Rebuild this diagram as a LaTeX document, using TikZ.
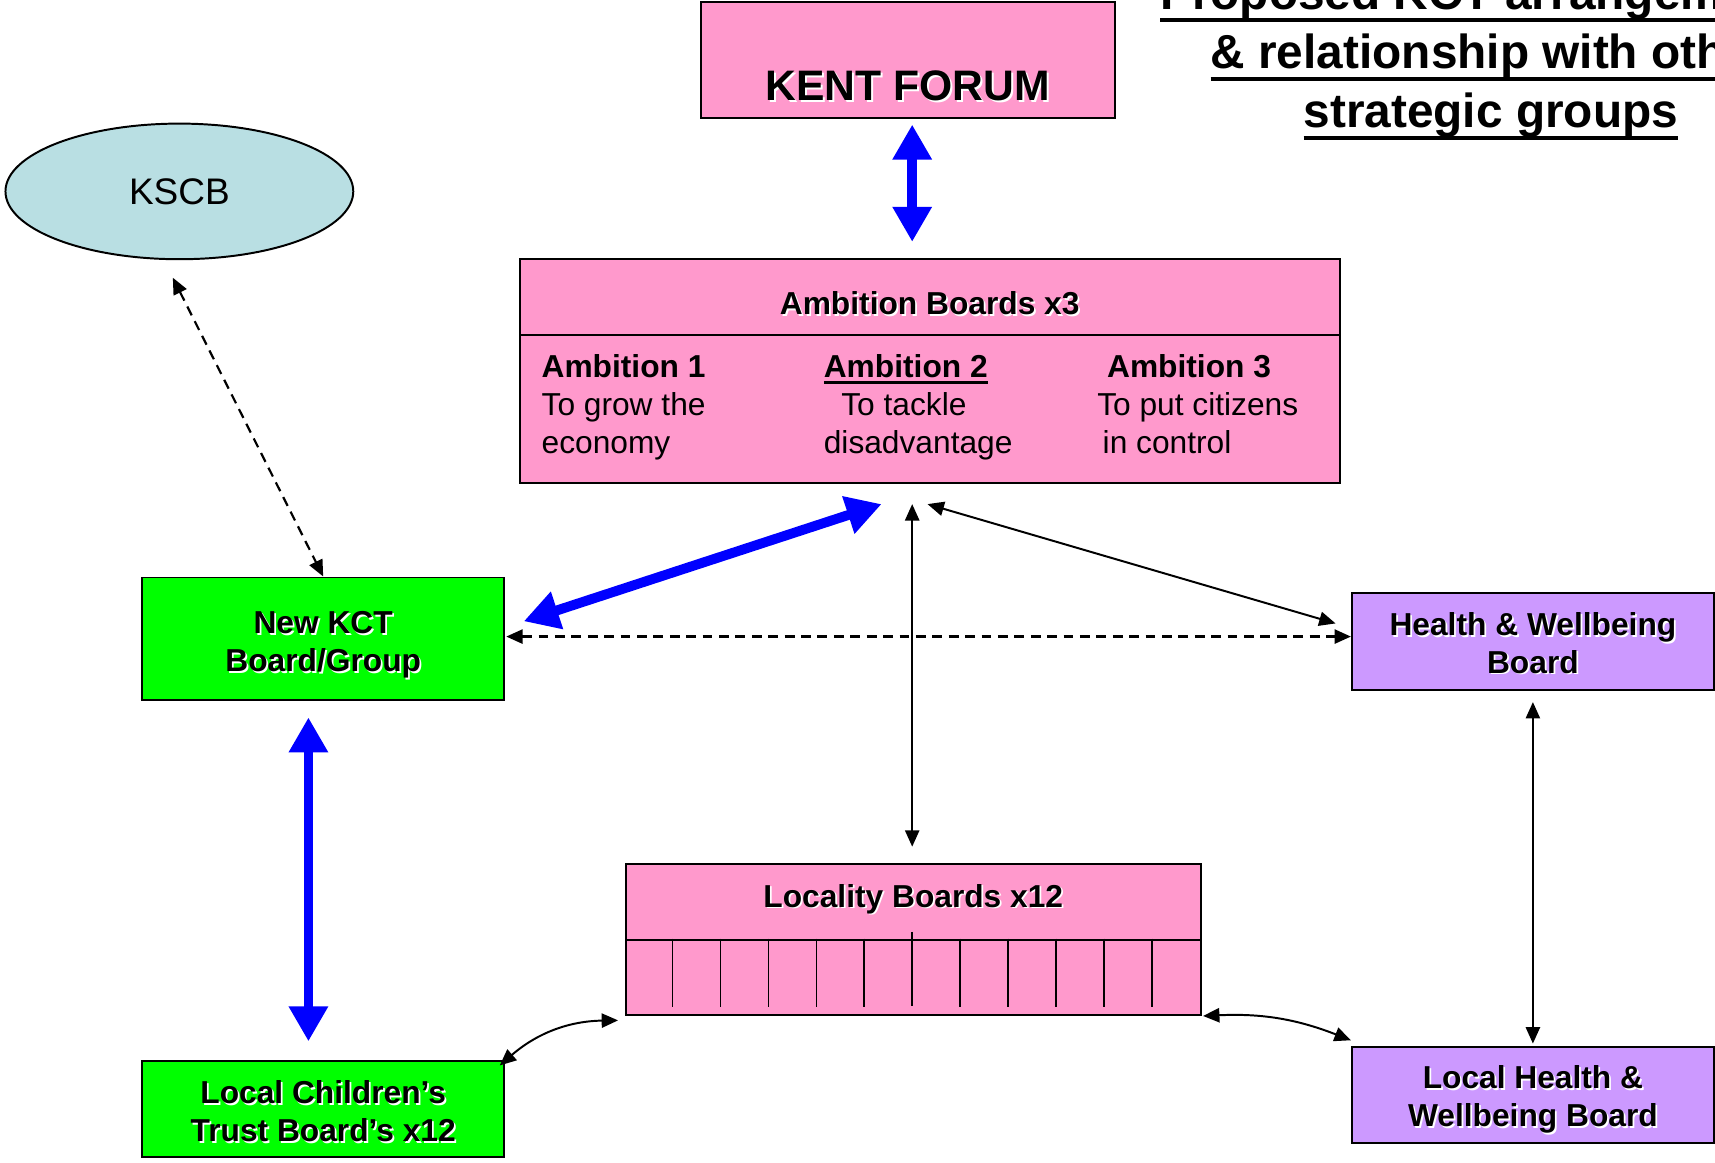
\documentclass[tikz,border=0pt]{standalone}
\usepackage{fontspec}
\setmainfont{Liberation Sans}
\usetikzlibrary{arrows.meta,shapes.geometric,calc}
\definecolor{kpink}{HTML}{FF99CC}
\definecolor{kgreen}{HTML}{00FF00}
\definecolor{kpurple}{HTML}{CC99FF}
\definecolor{kscbblue}{HTML}{B9DFE3}
\definecolor{arrblue}{HTML}{0000FF}
\newcommand\shd[1]{\makebox[0pt][l]{\kern1.6pt\raisebox{-1.6pt}{\color{white}#1}}#1}
\newcommand\dn[1]{\rule{0pt}{#1}}
\newsavebox\ulbox
\newcommand\myul[3]{\sbox\ulbox{#3}\makebox[0pt][l]{\raisebox{-#1}{\rule{\wd\ulbox}{#2}}}\usebox\ulbox}
\tikzset{
  box/.style={draw=black, line width=1.8pt, rectangle, inner sep=0pt, align=center,
    font=\fontsize{29}{34.5}\selectfont\bfseries},
  pinkbox/.style={box, fill=kpink},
  greenbox/.style={box, fill=kgreen},
  purplebox/.style={box, fill=kpurple},
  bigarrow/.style={draw=arrblue, line width=9pt,
    arrows={Triangle[width=34pt,length=32pt]-Triangle[width=34pt,length=32pt]}},
  thinarrow/.style={draw=black, line width=1.8pt,
    arrows={Triangle[width=13pt,length=15pt]-Triangle[width=13pt,length=15pt]}},
  dasharrow/.style={thinarrow, line width=2pt, dash pattern=on 9pt off 6pt},
  coltext/.style={anchor=base west, inner sep=0pt, font=\fontsize{29}{34.5}\selectfont},
  cellline/.style={draw=black, line width=1.6pt}
}
\begin{document}
\begin{tikzpicture}[x=1pt,y=-1pt]
\useasboundingbox (0,0) rectangle (1568,1063.3);
\clip (0,0) rectangle (1568,1063.3);

% title
\node[anchor=base, inner sep=0pt, font=\fontsize{43.7}{54}\selectfont\bfseries] (title) at (1363,9)
  {\begin{tabular}[t]{@{}c@{}}\myul{11pt}{3.5pt}{Proposed KCT arrangements}\\
   \myul{11pt}{3.5pt}{\& relationship with other}\\
   \myul{11pt}{3.5pt}{strategic groups}\end{tabular}};

% nodes
\node[pinkbox, minimum width=378pt, minimum height=106pt, text height=74pt, text depth=0pt,
  font=\fontsize{39}{46}\selectfont\bfseries] (forum) at (830,55) {\shd{KENT FORUM}};

\node[draw=black, line width=1.8pt, fill=kscbblue, ellipse, minimum width=318pt, minimum height=124pt,
  inner sep=0pt, font=\fontsize{33.8}{40}\selectfont] (kscb) at (164,175) {KSCB};

\node[pinkbox, minimum width=750pt, minimum height=69pt, text height=32pt, text depth=0pt] (ambhead)
  at (850,271.5) {\shd{Ambition Boards x3}};
\node[pinkbox, minimum width=750pt, minimum height=136pt] (amb) at (850,374) {};

\node[coltext] (a1) at (495,345) {\vtop{\baselineskip=35pt
  \hbox{\bfseries Ambition 1}\hbox{To grow the}\hbox{economy}}};
\node[coltext] (a2) at (753,345) {\vtop{\baselineskip=35pt
  \hbox{\bfseries\myul{6pt}{2.5pt}{Ambition 2}}\hbox{\kern16pt To tackle}\hbox{disadvantage}}};
\node[coltext] (a3) at (1003,345) {\vtop{\baselineskip=35pt
  \hbox{\bfseries\kern9pt Ambition 3}\hbox{To put citizens}\hbox{\kern5pt in control}}};

\node[greenbox, minimum width=331pt, minimum height=112pt] (kct) at (295.5,584)
  {\dn{33pt}\shd{New KCT}\\\shd{Board/Group}};
\node[purplebox, minimum width=331pt, minimum height=89pt] (health) at (1401.5,586.5)
  {\dn{25pt}\shd{Health \& Wellbeing}\\\shd{Board}};

\node[pinkbox, minimum width=526pt, minimum height=69pt, text height=20.8pt, text depth=11pt] (locality)
  at (835,824.5) {\shd{Locality Boards x12}};
\node[pinkbox, minimum width=526pt, minimum height=69pt] (loc) at (835,893.5) {};
\foreach \k in {1,...,5,7,8,9,10,11}
  \draw[cellline] ($(loc.north west)+(\k*43.833,0)$) -- ++(0,63);
\draw[cellline] ($(loc.north west)+(6*43.833,-6)$) -- ++(0,68);

\node[greenbox, minimum width=331pt, minimum height=88pt] (lct) at (295.5,1014)
  {\dn{27pt}\shd{Local Children’s}\\\shd{Trust Board’s x12}};
\node[purplebox, minimum width=331pt, minimum height=88pt] (lhw) at (1401.5,1001)
  {\dn{31pt}\shd{Local Health \&}\\\shd{Wellbeing Board}};

% connectors
\draw[bigarrow] ([shift={(4,5)}]forum.south) -- ([shift={(-16,-15)}]ambhead.north);
\draw[bigarrow] ([shift={(17,-16)}]kct.east) -- ([shift={(-44,18)}]amb.south);
\draw[bigarrow] ([shift={(-13.5,15)}]kct.south) -- ([shift={(-13.5,-17)}]lct.north);
\draw[thinarrow] ([shift={(-16,18)}]amb.south) -- ([shift={(-1,-15)}]locality.north);
\draw[thinarrow] ([shift={(-2,18)}]amb.south) -- ([shift={(-14,-16.5)}]health.west);
\draw[dasharrow] ([shift={(1,-2)}]kct.east) -- ([shift={(0,-4.5)}]health.west);
\draw[dasharrow] ([shift={(-6,16)}]kscb.south) -- (kct.north);
\draw[thinarrow] ([shift={(0,10)}]health.south) -- ([shift={(0,-2)}]lhw.north);
\draw[thinarrow] ([shift={(-5,5)}]lct.north east) to[bend left=20] ([shift={(-6,4)}]loc.south west);
\draw[thinarrow] ([shift={(1,0)}]loc.south east) to[bend left=12] ([shift={(0,-5)}]lhw.north west);
\end{tikzpicture}
\end{document}
